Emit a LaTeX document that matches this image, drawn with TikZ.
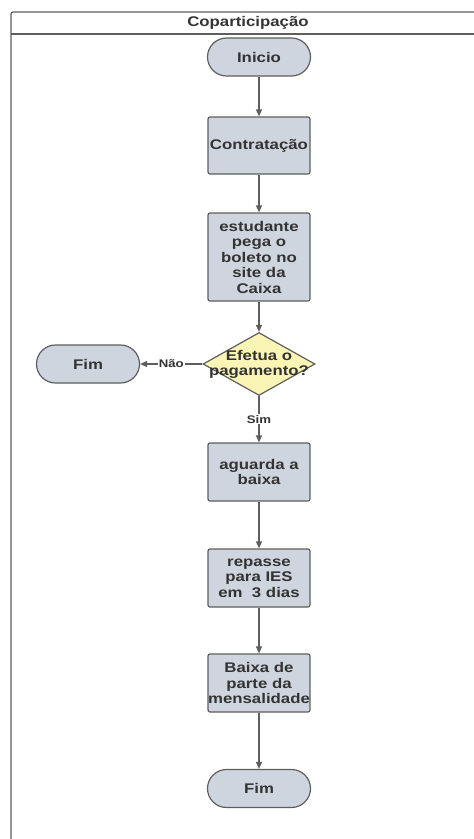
\documentclass[tikz,border=0pt]{standalone}
\usepackage{fontspec}
\setmainfont{Liberation Sans}[FakeStretch=1.2]
\usetikzlibrary{arrows.meta,positioning,shapes.geometric}
\definecolor{edge}{HTML}{5E5E5E}
\definecolor{boxfill}{HTML}{CFD5DF}
\definecolor{askfill}{HTML}{FAF5B4}
\definecolor{ink}{HTML}{333333}
\tikzset{
  proc/.style={rectangle, rounded corners=2pt, draw=edge, line width=1.2pt, fill=boxfill, minimum width=102pt, minimum height=58pt, inner sep=0pt, align=center, font=\bfseries\fontsize{14}{15.5}\selectfont, text=ink},
  term/.style={proc, rounded corners=19pt, minimum width=103pt, minimum height=38pt},
  ask/.style={diamond, draw=edge, line width=1.2pt, fill=askfill, minimum width=112pt, minimum height=63pt, inner sep=0pt},
  asktext/.style={align=center, font=\bfseries\fontsize{14}{15}\selectfont, text=ink, inner sep=0pt},
  flow/.style={-{Triangle[length=7pt,width=6pt]}, draw=edge, line width=1.2pt},
  tag/.style={font=\bfseries\fontsize{11}{12}\selectfont, text=ink, fill=white, inner sep=1pt},
  lane/.style={draw=edge, line width=1.2pt},
}

\begin{document}
\begin{tikzpicture}[x=1pt,y=-1pt]
  \useasboundingbox (0,0) rectangle (474,839);
  \clip (0,0) rectangle (474,839);
  % swimlane
  \draw[lane, rounded corners=2pt] (11,12) rectangle (486,850);
  \draw[lane] (11,34) -- (486,34);
  \node[font=\bfseries\fontsize{14}{15}\selectfont, text=ink] (title) at (248,23) {Coparticipação};
  % steps
  \node[term] (start) at (259,57) {Inicio};
  \node[proc, minimum height=57pt] (contract) at (259,145.5) {Contratação};
  \node[proc, minimum height=88pt] (slip) at (259,257) {estudante\\pega o\\boleto no\\site da\\Caixa};
  \node[ask, label={[asktext]center:{Efetua o\\pagamento?}}] (pay) at (259,364) {};
  \node[term] (stopA) at (88,364) {Fim};
  \node[proc] (wait) at (259,472) {aguarda a\\baixa};
  \node[proc] (transfer) at (259,578) {repasse\\para IES\\em~~3 dias};
  \node[proc] (settle) at (259,683) {Baixa de\\parte da\\mensalidade};
  \node[term] (stopB) at (259,788.5) {Fim};
  % flow
  \draw[flow] (start) -- (contract);
  \draw[flow] (contract) -- (slip);
  \draw[flow] (slip) -- (pay);
  \draw[flow] (pay) -- node[tag] {Não} (stopA);
  \draw[flow] (pay) -- node[tag] {Sim} (wait);
  \draw[flow] (wait) -- (transfer);
  \draw[flow] (transfer) -- (settle);
  \draw[flow] (settle) -- (stopB);
\end{tikzpicture}
\end{document}
